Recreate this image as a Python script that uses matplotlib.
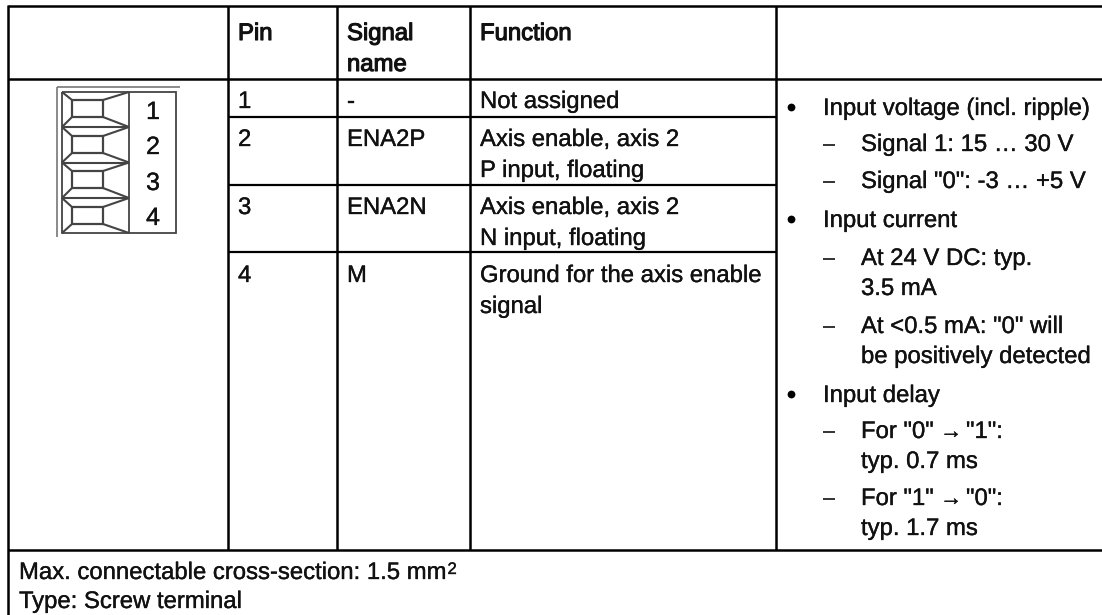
import matplotlib
matplotlib.use('Agg')
import matplotlib.pyplot as plt
import matplotlib.patheffects as pe

FONT = ['Liberation Sans', 'DejaVu Sans']
FS = 17.2
INK = '#111111'
GREY = '#444444'

# table content
header_labels = ['Pin', 'Signal', 'name', 'Function']
pin_labels = ['1', '2', '3', '4']
signal_names = ['-', 'ENA2P', 'ENA2N', 'M']
function_lines = ['Not assigned', 'Axis enable, axis 2', 'P input, floating',
                  'Axis enable, axis 2', 'N input, floating',
                  'Ground for the axis enable', 'signal']
bullet_lines = ['Input voltage (incl. ripple)', 'Input current', 'Input delay']
dash_first_lines = ['Signal 1: 15 … 30 V', 'Signal "0": -3 … +5 V', 'At 24 V DC: typ.',
                    'At <0.5 mA: "0" will', 'For "0" → "1":', 'For "1" → "0":']
dash_next_lines = ['3.5 mA', 'be positively detected', 'typ. 0.7 ms', 'typ. 1.7 ms']
footer_lines = ['Max. connectable cross-section: 1.5 mm', 'Type: Screw terminal']
footer_sup = '2'

# layout in image pixels
col_x = [228, 337, 470, 776]
row_y = [117, 185, 252]
header_x = [238, 347, 347, 480]
header_y = [40, 40, 71, 40]
pin_y = [108, 146, 214, 282]
function_y = [108, 146, 177, 214, 245, 282, 313]
bullet_y = [115, 227, 402]
dash_first_y = [151, 188, 265, 333, 438, 505]
dash_next_y = [295, 363, 468, 535]
footer_y = [579, 608]
cell_tops = [92, 127, 162.5, 198]
cell_bottoms = [127, 162.5, 198, 233]
rect_tops = [100, 136, 171, 207]
rect_bottoms = [117, 153, 188, 224]
terminal_digit_y = [119, 154, 190, 225]


def put(ax, x, y, s, size=FS, bold=False, ha='left'):
    t = ax.text(x, y, s, fontsize=size, family=FONT, color=INK, ha=ha, va='baseline')
    #source text is a little heavier than the unhinted render
    t.set_path_effects([pe.withStroke(linewidth=0.8 if bold else 0.25, foreground=INK)])
    return t


def rule(ax, xs, ys, lw=1.8, color='black'):
    ax.plot(xs, ys, color=color, lw=lw, solid_capstyle='butt', solid_joinstyle='miter')


def draw_terminal(ax):
    #Outer frame
    rule(ax, [57, 180], [87, 87], lw=1.2, color='#777777')
    rule(ax, [57, 57], [87, 237], lw=1.2, color='#777777')
    rule(ax, [62, 176, 176, 62, 62], [92, 92, 233, 233, 92], lw=1.3, color=GREY)
    rule(ax, [129, 129], [92, 233], lw=1.3, color=GREY)

    #One clamp per pin
    for top, bottom, r_top, r_bottom in zip(cell_tops, cell_bottoms, rect_tops, rect_bottoms):
        rule(ax, [72, 103, 103, 72, 72], [r_top, r_top, r_bottom, r_bottom, r_top], lw=1.6, color=GREY)
        rule(ax, [62, 72], [top, r_top], lw=1.5, color=GREY)
        rule(ax, [129, 103], [top, r_top], lw=1.5, color=GREY)
        rule(ax, [72, 62], [r_bottom, bottom], lw=1.5, color=GREY)
        rule(ax, [103, 129], [r_bottom, bottom], lw=1.5, color=GREY)
        if bottom < 233:
            rule(ax, [62, 129], [bottom, bottom], lw=1.5, color=GREY)

    for label, y in zip(pin_labels, terminal_digit_y):
        put(ax, 153, y, label, size=18, ha='center')


def main():
    plt.rcParams['text.hinting'] = 'none'
    plt.rcParams['text.hinting_factor'] = 1

    fig = plt.figure(figsize=(11.02, 6.15), dpi=100)
    ax = fig.add_axes([0, 0, 1, 1])
    ax.set_xlim(0, 1102)
    ax.set_ylim(615, 0)
    ax.axis('off')

    #Grid lines
    rule(ax, [8, 1102], [6, 6])
    rule(ax, [8, 1102], [79, 79])
    rule(ax, [8, 1102], [550, 550])
    rule(ax, [8, 8], [5, 615])
    for x in col_x:
        rule(ax, [x, x], [6, 550])
    for y in row_y:
        rule(ax, [228, 776], [y, y], lw=1.6)

    #Header
    for s, x, y in zip(header_labels, header_x, header_y):
        put(ax, x, y, s, bold=True)

    #Pin rows
    for pin, signal, y in zip(pin_labels, signal_names, pin_y):
        put(ax, 238, y, pin)
        put(ax, 347, y, signal)
    for s, y in zip(function_lines, function_y):
        put(ax, 480, y, s)

    #Right column
    for s, y in zip(bullet_lines, bullet_y):
        ax.plot([791], [y - 8], 'o', color='black', ms=5.6, mew=0)
        put(ax, 823, y, s)
    for s, y in zip(dash_first_lines, dash_first_y):
        rule(ax, [823, 835], [y - 6, y - 6], lw=1.2, color=INK)
        if '→' in s:
            #arrow is narrower in the source font, so set it apart
            left, right = s.split(' → ')
            put(ax, 861, y, left)
            put(ax, 940, y, '→', size=16)
            put(ax, 966, y, right)
        else:
            put(ax, 861, y, s)
    for s, y in zip(dash_next_lines, dash_next_y):
        put(ax, 861, y, s)

    #Footer
    for s, y in zip(footer_lines, footer_y):
        put(ax, 19, y, s)
    put(ax, 447.5, 574, footer_sup, size=12)

    draw_terminal(ax)

    fig.savefig('out.png', dpi=100)


if __name__ == "__main__":
    main()
